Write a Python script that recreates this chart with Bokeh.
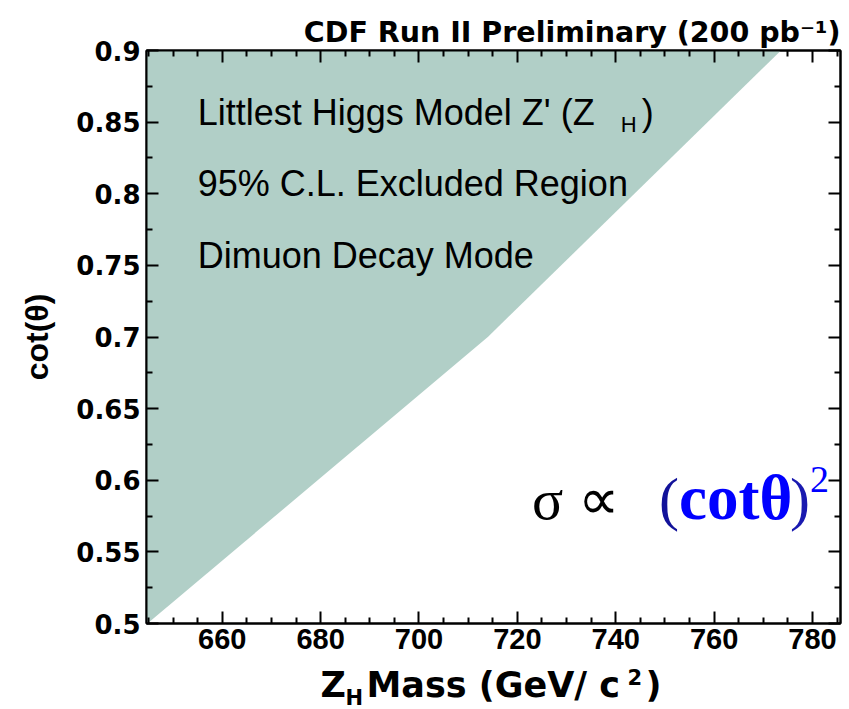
from bokeh.embed import file_html
from bokeh.layouts import column
from bokeh.models import FixedTicker, Label, LinearAxis, Range1d
from bokeh.plotting import figure
from bokeh.resources import INLINE

# Excluded region boundary: Z_H mass limit (GeV/c^2) versus cot(theta)
cot_theta = [0.50, 0.70, 0.90]
mass_limit = [644.8, 714.0, 773.6]

x_major = [660, 680, 700, 720, 740, 760, 780]
x_minor = [645, 650, 655, 665, 670, 675, 685, 690, 695, 705, 710, 715,
           725, 730, 735, 745, 750, 755, 765, 770, 775, 785]
y_major = [0.5, 0.55, 0.6, 0.65, 0.7, 0.75, 0.8, 0.85, 0.9]
y_labels = ["0.5", "0.55", "0.6", "0.65", "0.7", "0.75", "0.8", "0.85", "0.9"]
y_minor = [0.525, 0.575, 0.625, 0.675, 0.725, 0.775, 0.825, 0.875]

X0, X1 = 644.6, 785.7
Y0, Y1 = 0.5, 0.9

FILL = "#b1cfc7"
W = 849
H_MAIN, H_XTITLE = 663, 46
FRAME_LEFT, FRAME_RIGHT = 146, 840

p = figure(width=W, height=H_MAIN, output_backend="svg", toolbar_location=None,
           x_range=Range1d(X0, X1), y_range=Range1d(Y0, Y1),
           x_axis_location=None, y_axis_location=None,
           min_border_left=FRAME_LEFT, min_border_right=W - FRAME_RIGHT,
           min_border_top=50, min_border_bottom=40)
p.grid.visible = False
p.outline_line_color = "black"
p.outline_line_width = 2
p.background_fill_color = "white"
p.border_fill_color = "white"

# header
p.title.text = "CDF Run II Preliminary (200 pb\u207b\u00b9)"
p.title.align = "right"
p.title.text_font = "DejaVu Sans"
p.title.text_font_size = "28.5px"
p.title.text_font_style = "bold"
p.title.text_color = "black"
p.title.standoff = 4

# excluded area: everything to the left of the mass limit
p.harea(x1=[X0] * len(cot_theta), x2=mass_limit, y=cot_theta,
        fill_color=FILL, fill_alpha=1.0)

ylabel_map = {v: s for v, s in zip(y_major, y_labels)}


def make_axis(ticks, minor, show_labels, font=None, size=None, overrides=None):
    ax = LinearAxis(ticker=FixedTicker(ticks=ticks, minor_ticks=minor))
    ax.axis_line_color = "black"
    ax.axis_line_width = 2
    ax.major_tick_in = 12
    ax.major_tick_out = 0
    ax.minor_tick_in = 6
    ax.minor_tick_out = 0
    ax.major_tick_line_width = 2
    ax.minor_tick_line_width = 2
    ax.major_tick_line_color = "black"
    ax.minor_tick_line_color = "black"
    if show_labels:
        ax.major_label_text_font = font
        ax.major_label_text_font_size = size
        ax.major_label_text_font_style = "bold"
        ax.major_label_text_color = "black"
        if overrides:
            ax.major_label_overrides = overrides
    else:
        ax.major_label_text_font_size = "0px"
        ax.major_label_text_alpha = 0
    return ax


bottom = make_axis(x_major, x_minor, True, "Liberation Sans", "29px")
bottom.major_label_standoff = 5
left = make_axis(y_major, y_minor, True, "DejaVu Sans", "26px", ylabel_map)
left.major_label_standoff = 6
left.axis_label = "cot(\u03b8)"
left.axis_label_text_font = "Liberation Sans"
left.axis_label_text_font_size = "32px"
left.axis_label_text_font_style = "bold"
left.axis_label_text_color = "black"
left.axis_label_standoff = 18
top = make_axis(x_major, x_minor, False)
right = make_axis(y_major, y_minor, False)
p.add_layout(bottom, "below")
p.add_layout(left, "left")
p.add_layout(top, "above")
p.add_layout(right, "right")


def lab(fig, text, x, y, dx=0, dy=0, font="DejaVu Sans", size=28, style="normal",
        color="black", align="left"):
    # dy is the baseline shift in pixels; lift keeps the glyph baseline there
    lift = 0.36 * size
    fig.add_layout(Label(x=x, y=y, x_offset=dx, y_offset=dy + lift, text=text,
                         text_font=font, text_font_size=f"{size}px",
                         text_font_style=style, text_color=color,
                         text_align=align, text_baseline="alphabetic"))


# annotation text inside the frame
inf = "Liberation Sans"
lab(p, "Littlest Higgs Model Z' (Z", 655.0, 0.85, dy=-3, font=inf, size=36)
lab(p, "H", 655.0, 0.85, dx=423, dy=-10, font=inf, size=22)
lab(p, ")", 655.0, 0.85, dx=444, dy=-3, font=inf, size=36)
lab(p, "95% C.L. Excluded Region", 655.0, 0.80, dy=-3, font=inf, size=36)
lab(p, "Dimuon Decay Mode", 655.0, 0.75, dy=-3, font=inf, size=36)

# cross-section scaling
sx, sy = 723.0, 0.572
serif = "Liberation Serif"
lab(p, "\u03c3 \u221d", sx, sy, font=serif, size=58, color="black")
lab(p, "(", sx, sy, dx=127, font=serif, size=60, color="#12129a")
lab(p, "cot\u03b8", sx, sy, dx=147, font=serif, size=63, style="bold", color="#0000ff")
lab(p, ")", sx, sy, dx=258, font=serif, size=60, color="#1a1ab0")
lab(p, "2", sx, sy, dx=278, dy=27, font=serif, size=38, color="#0000ff")

# strip under the main plot holding the x axis title; its frame lines up
# with the main frame, so its x range is given in page pixels
t = figure(width=W, height=H_XTITLE, output_backend="svg", toolbar_location=None,
           x_range=Range1d(FRAME_LEFT, FRAME_RIGHT), y_range=Range1d(0, H_XTITLE),
           x_axis_location=None, y_axis_location=None, min_border=0,
           min_border_left=FRAME_LEFT, min_border_right=W - FRAME_RIGHT)
t.grid.visible = False
t.outline_line_color = None
t.background_fill_color = "white"
t.border_fill_color = "white"

tf = "DejaVu Sans"
base = 12
lab(t, "Z", 320, base, font=tf, size=35, style="bold")
lab(t, "H", 345, base - 8, font=tf, size=21, style="bold")
lab(t, "Mass (GeV/ c", 366, base, font=tf, size=35, style="bold")
lab(t, "2", 627, base + 13, font=tf, size=21, style="bold")
lab(t, ")", 645, base, font=tf, size=35, style="bold")

page = column(p, t, spacing=0)
open("out.html", "w").write(file_html(page, INLINE))
